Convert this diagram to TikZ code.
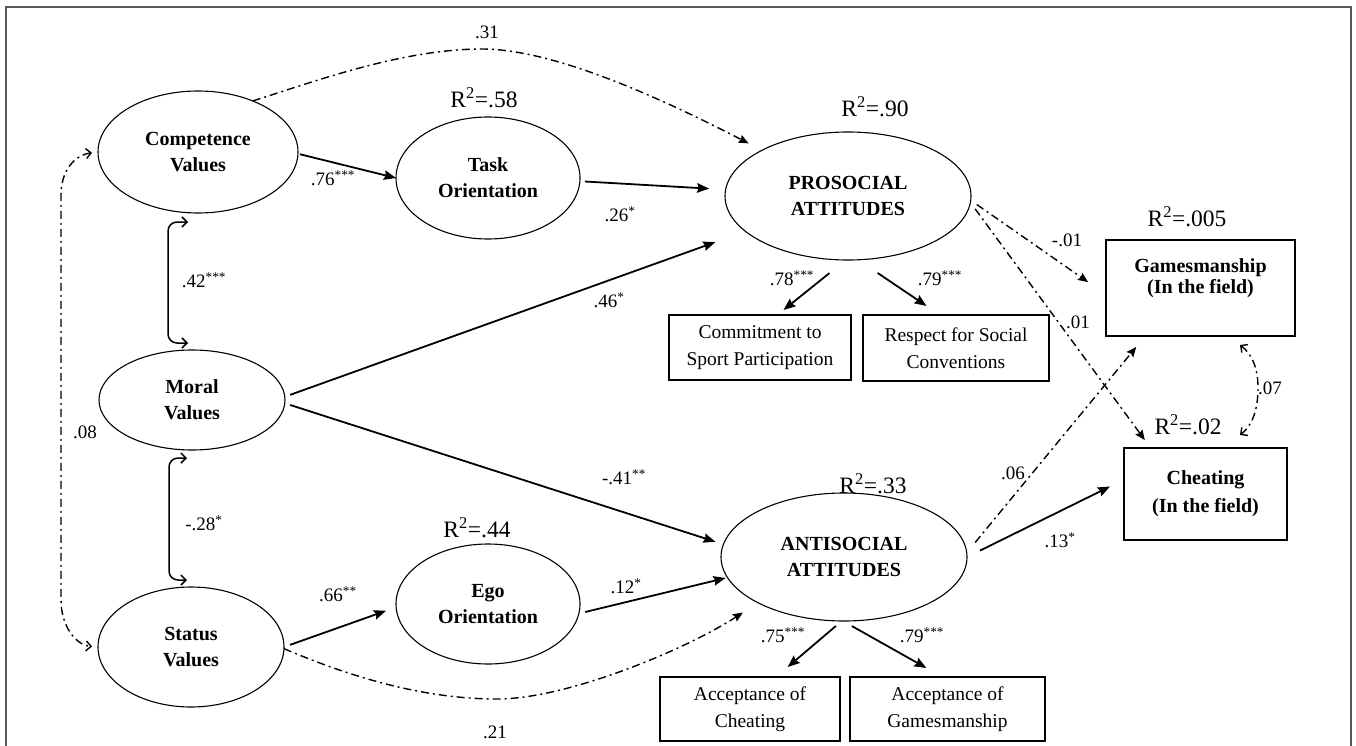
\documentclass[tikz,border=0pt]{standalone}
\usepackage{fontspec}
\setmainfont{Liberation Serif}
\usetikzlibrary{arrows.meta,calc,shapes.geometric}
\begin{document}
\begin{tikzpicture}[x=1pt,y=-1pt,
 ell/.style={ellipse,draw,line width=1.1pt,inner sep=0pt,outer sep=0pt,align=center,font=\fontsize{20}{26}\selectfont\bfseries},
 obox/.style={rectangle,draw,line width=1.6pt,inner sep=0pt,outer sep=0pt,align=center,font=\fontsize{19.5}{27}\selectfont},
 fbox/.style={rectangle,draw,line width=1.6pt,inner sep=0pt,outer sep=0pt,align=center,font=\fontsize{20}{28}\selectfont\bfseries},
 ftext/.style={inner sep=0pt,align=center,font=\fontsize{20}{21.5}\selectfont\bfseries},
 coef/.style={inner sep=0pt,font=\fontsize{19}{21}\selectfont},
 rsq/.style={inner sep=0pt,font=\fontsize{23.5}{25}\selectfont},
 arr/.style={line width=1.8pt,-{Stealth[length=12pt,width=9.5pt,inset=1.5pt]}},
 dd/.style={line width=1.4pt,dash pattern=on 8pt off 4pt on 2pt off 4pt},
 darr/.style={dd,-{Stealth[length=10pt,width=8.5pt,inset=1.5pt]}},
 barbs/.style={{Straight Barb[length=5pt,width=10pt]}-{Straight Barb[length=5pt,width=10pt]}},
]
\useasboundingbox (0,0) rectangle (1356,746);
% frame
\draw[line width=1.3pt,black!65] (6,760) -- (6,7) -- (1351,7) -- (1351,760);

% latent variables
\node[ell,minimum width=200pt,minimum height=122pt] (comp) at (198,152) {Competence\\Values};
\node[ell,minimum width=184pt,minimum height=122pt] (task) at (488,178) {Task\\Orientation};
\node[ell,minimum width=186pt,minimum height=100pt] (moral) at (192,400) {Moral\\Values};
\node[ell,minimum width=186pt,minimum height=120pt] (status) at (191,647) {Status\\Values};
\node[ell,minimum width=184pt,minimum height=120pt] (ego) at (488,604) {Ego\\Orientation};
\node[ell,minimum width=246pt,minimum height=128pt] (pro) at (848,196) {PROSOCIAL\\ATTITUDES};
\node[ell,minimum width=246pt,minimum height=128pt] (anti) at (844,557) {ANTISOCIAL\\ATTITUDES};

% observed variables
\node[obox,minimum width=182pt,minimum height=65pt] (commit) at (760,347.5) {Commitment to\\Sport Participation};
\node[obox,minimum width=186pt,minimum height=66pt] (respect) at (956,348) {Respect for Social\\Conventions};
\node[obox,minimum width=180pt,minimum height=64pt] (acccheat) at (750,709) {Acceptance of\\Cheating};
\node[obox,minimum width=195pt,minimum height=64pt] (accgames) at (947.5,709) {Acceptance of\\Gamesmanship};
\node[fbox,minimum width=189pt,minimum height=96pt] (games) at (1200.5,288) {};
\node[ftext] (gamestxt) at (1200.5,278) {Gamesmanship\\(In the field)};
\node[fbox,minimum width=163pt,minimum height=92pt] (cheat) at (1205.5,494) {Cheating\\(In the field)};

% solid paths
\draw[arr,shorten <=2pt] (comp.-1.4) -- (task.180);
\draw[arr,shorten <=5pt,shorten >=16.5pt] (task.-2.9) -- (pro.177.1);
\draw[arr,shorten <=5.6pt,shorten >=32pt] (moral.2.5) -- (pro.-161.1);
\draw[arr,shorten <=5.6pt,shorten >=8.4pt] (moral.-2.6) -- (anti.174.6);
\draw[arr,shorten <=6.4pt,shorten >=10.7pt] (status.0) -- (ego.-178.5);
\draw[arr,shorten <=6.6pt,shorten >=2pt] (ego.-6.7) -- (anti.-170.5);
\draw[arr,shorten <=21pt,shorten >=8pt] (pro.-92.3) -- (commit.62.7);
\draw[arr,shorten <=23.6pt,shorten >=16.1pt] (pro.-81.6) -- (respect.116.7);
\draw[arr,shorten <=7.7pt,shorten >=15.4pt] (anti.-92.8) -- (acccheat.51.7);
\draw[arr,shorten <=10.3pt,shorten >=18.4pt] (anti.-91.8) -- (accgames.99.6);
\draw[arr,shorten <=14.5pt,shorten >=15.6pt] (anti.0.3) -- (cheat.170.4);

% dash-dot paths
\draw[darr,shorten <=13.3pt,shorten >=14.2pt] (anti.2.2) -- (games.-139.6);
\draw[darr,shorten <=7.4pt,shorten >=21.9pt] (pro.-2.2) -- (games.-176.1);
\draw[darr,shorten <=8pt,shorten >=9.9pt] (pro.-3.5) -- (cheat.140.9);
\draw[darr,shorten >=15pt] (comp.43) .. controls (313,82) and (402,49) .. (482,49) .. controls (560,49) and (680,108) .. (pro.152.5);
\draw[darr,shorten >=18pt] (status.-1) .. controls (355,679) and (427,699) .. (497,699) .. controls (567,699) and (685,650) .. (anti.-152.9);

% correlations
\draw[dd,barbs,shorten <=6pt,shorten >=6pt] (comp.180) .. controls (75,155) and (61,170) .. (61,195) -- (61,600) .. controls (61,625) and (75,645) .. (status.180);
\draw[line width=1.5pt,barbs,rounded corners=9pt] ($(comp.south)+(-10,9)$) -- ++(-20,0) |- ($(moral.north)+(-4,-7)$);
\draw[line width=1.5pt,barbs,rounded corners=9pt] ($(moral.south)+(-5,8)$) -- ++(-18,0) |- ($(status.north)+(-4,-7)$);
\draw[dd,barbs] ($(games.south)+(39.5,9)$) .. controls (1252,354) and (1258,368) .. (1258,388) .. controls (1258,410) and (1252,426) .. ($(cheat.north)+(34.5,-13)$);

% coefficients
\node[coef] (l31) at (487,32) {.31};
\node[coef] (l76) at (333,178) {.76\textsuperscript{***}};
\node[coef] (l26) at (620,214) {.26\textsuperscript{*}};
\node[coef] (l42) at (204,280) {.42\textsuperscript{***}};
\node[coef] (l46) at (609,300) {.46\textsuperscript{*}};
\node[coef] (lm01) at (1067,240) {-.01};
\node[coef] (l01) at (1078,322) {.01};
\node[coef] (l07) at (1270,388) {.07};
\node[coef] (l08) at (85,432) {.08};
\node[coef] (l78) at (792,278) {.78\textsuperscript{***}};
\node[coef] (l79a) at (940,278) {.79\textsuperscript{***}};
\node[coef] (l41) at (624,477) {-.41\textsuperscript{**}};
\node[coef] (l28) at (204,523) {-.28\textsuperscript{*}};
\node[coef] (l66) at (338,594) {.66\textsuperscript{**}};
\node[coef] (l12) at (626,586) {.12\textsuperscript{*}};
\node[coef] (l06) at (1013,473) {.06};
\node[coef] (l13) at (1060,540) {.13\textsuperscript{*}};
\node[coef] (l75) at (783,635) {.75\textsuperscript{***}};
\node[coef] (l79b) at (922,635) {.79\textsuperscript{***}};
\node[coef] (l21) at (495,732) {.21};

% R-squared
\node[rsq] (r58) at (484,98) {R\textsuperscript{2}=.58};
\node[rsq] (r90) at (875,107) {R\textsuperscript{2}=.90};
\node[rsq] (r005) at (1187,217) {R\textsuperscript{2}=.005};
\node[rsq] (r02) at (1188,425) {R\textsuperscript{2}=.02};
\node[rsq] (r44) at (477,528) {R\textsuperscript{2}=.44};
\node[rsq] (r33) at (873,484) {R\textsuperscript{2}=.33};
\end{tikzpicture}
\end{document}
